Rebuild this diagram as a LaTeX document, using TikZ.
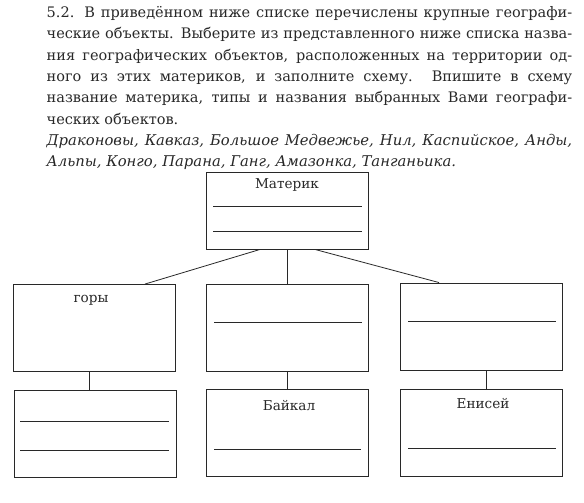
\documentclass[tikz,border=0pt]{standalone}
\usepackage{fontspec}
\setmainfont{DejaVu Serif}
\definecolor{ink}{RGB}{40,40,40}
\newcommand{\jline}[1]{\makebox[525.5pt][s]{#1}}
\begin{document}
\begin{tikzpicture}[x=1pt,y=-1pt,
  box/.style={draw=ink,line width=0.9pt,minimum width=162pt,minimum height=87pt,inner sep=0pt},
  wline/.style={draw=ink,line width=0.9pt},
  conn/.style={draw=ink,line width=0.8pt},
  lbl/.style={text=ink,font=\fontsize{13.6}{16}\selectfont,inner sep=0pt},
  para/.style={text=ink,font=\fontsize{14.5}{18}\selectfont,inner sep=0pt,anchor=mid west},
  ipara/.style={para,font=\fontsize{14.8}{18}\selectfont\itshape}]
\useasboundingbox[fill=white] (0,0) rectangle (584,503);
% task text
\node[para] (t1) at (46.5,15) {\jline{5.2. В приведённом ниже списке перечислены крупные географи-}};
\node[para] (t2) at (46.5,36) {\jline{ческие объекты. Выберите из представленного ниже списка назва-}};
\node[para] (t3) at (46.5,58) {\jline{ния географических объектов, расположенных на территории од-}};
\node[para] (t4) at (46.5,79) {\jline{ного из этих материков, и заполните схему. Впишите в схему}};
\node[para] (t5) at (46.5,100) {\jline{название материка, типы и названия выбранных Вами географи-}};
\node[para] (t6) at (46.5,122) {ческих объектов.};
\node[ipara] (t7) at (46.5,143) {\jline{Драконовы, Кавказ, Большое Медвежье, Нил, Каспийское, Анды,}};
\node[ipara] (t8) at (46.5,164) {Альпы, Конго, Парана, Ганг, Амазонка, Танганьика.};
% boxes
\node[box,minimum height=77pt] (top) at (287,210.5) {};
\node[box] (ml) at (94,328) {};
\node[box] (mm) at (287.5,327.5) {};
\node[box] (mr) at (481,326.5) {};
\node[box] (bl) at (95,434) {};
\node[box] (bm) at (287.5,433) {};
\node[box] (br) at (481.5,432.5) {};
% labels
\node[lbl] (lt) at (287,185) {Материк};
\node[lbl] (lg) at (91,300) {горы};
\node[lbl] (lb) at (289,406) {Байкал};
\node[lbl] (le) at (483,404) {Енисей};
% writing lines
\draw[wline] (213,206) -- (362,206);
\draw[wline] (213,231) -- (362,231);
\draw[wline] (214,322) -- (362,322);
\draw[wline] (408,321) -- (556,321);
\draw[wline] (20,421) -- (169,421);
\draw[wline] (20,450) -- (169,450);
\draw[wline] (214,449) -- (361,449);
\draw[wline] (408,448) -- (556,448);
% connectors
\draw[conn] ([xshift=-27pt]top.south) -- ([xshift=51pt]ml.north);
\draw[conn] (top.south) -- (top.south |- mm.north);
\draw[conn] ([xshift=28pt]top.south) -- ([xshift=-42pt]mr.north);
\draw[conn] ([xshift=-5pt]ml.south) -- ([xshift=-6pt]bl.north);
\draw[conn] (mm.south) -- (bm.north);
\draw[conn] ([xshift=5pt]mr.south) -- ([xshift=4.5pt]br.north);
\end{tikzpicture}
\end{document}
